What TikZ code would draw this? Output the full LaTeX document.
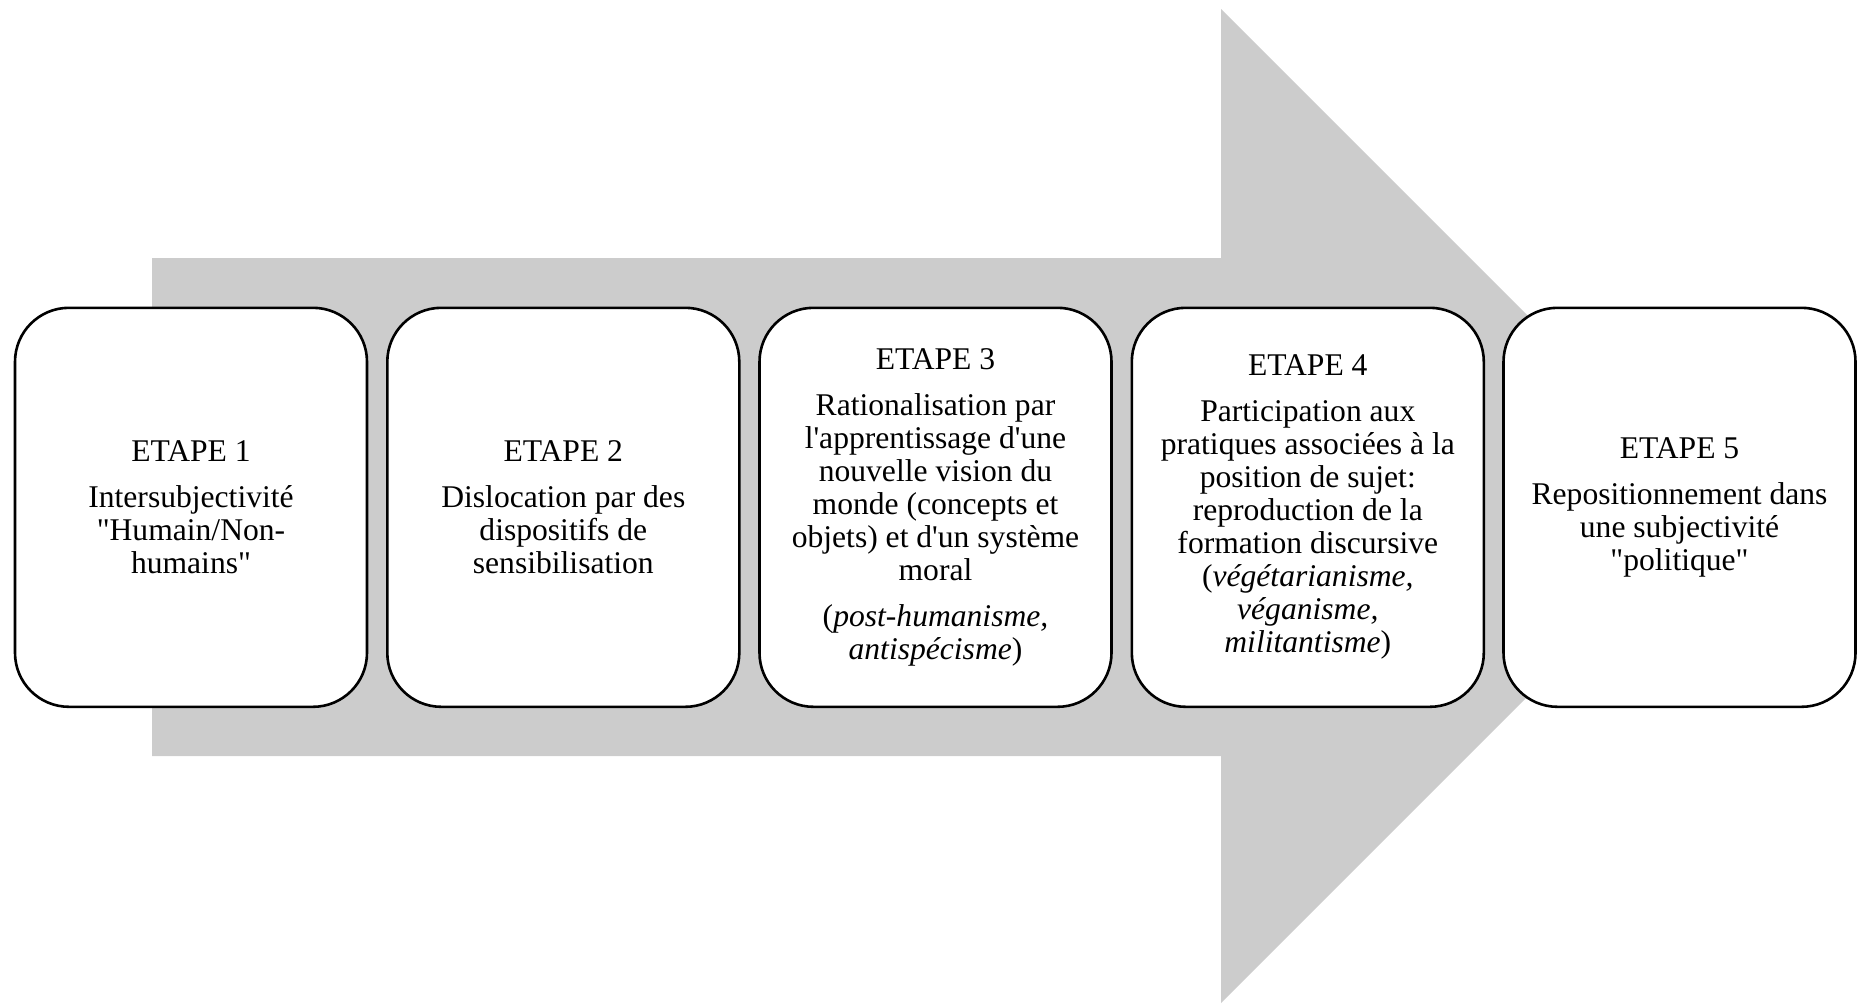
\documentclass[tikz,border=0pt]{standalone}
\usepackage{fontspec}
\setmainfont{Liberation Serif}[Ligatures=TeXOff]
\begin{document}
\begin{tikzpicture}[x=0.5pt,y=-0.5pt,
  stepbox/.style={draw=black, line width=1.3pt, fill=white, rounded corners=27pt,
    minimum width=176pt, minimum height=199.5pt, align=center, inner sep=0pt,
    font=\fontsize{15.8pt}{16.5pt}\selectfont},
  bigarrow/.style={fill=black!20, draw=none}]
\useasboundingbox (0,0) rectangle (1857,1003);
\fill[bigarrow] (152,258) -- (1221,258) -- (1221,9) -- (1718,506) -- (1221,1003) -- (1221,756) -- (152,756) -- cycle;
\node[stepbox] (e1) at (191,507.3) {ETAPE 1\\[6.5pt]Intersubjectivité\\"Humain/Non-\\humains"};
\node[stepbox] (e2) at (563.3,507.3) {ETAPE 2\\[6.5pt]Dislocation par des\\dispositifs de\\sensibilisation};
\node[stepbox] (e3) at (935.5,507.3) {ETAPE 3\\[6.5pt]Rationalisation par\\l'apprentissage d'une\\nouvelle vision du\\monde (concepts et\\objets) et d'un système\\moral\\[6.5pt](\textit{post-humanisme,}\\\textit{antispécisme})};
\node[stepbox] (e4) at (1307.8,507.3) {ETAPE 4\\[6.5pt]Participation aux\\pratiques associées à la\\position de sujet:\\reproduction de la\\formation discursive\\(\textit{végétarianisme,}\\\textit{véganisme,}\\\textit{militantisme})};
\node[stepbox] (e5) at (1679.5,507.3) {ETAPE 5\\[6.5pt]Repositionnement dans\\une subjectivité\\"politique"};
\end{tikzpicture}
\end{document}
